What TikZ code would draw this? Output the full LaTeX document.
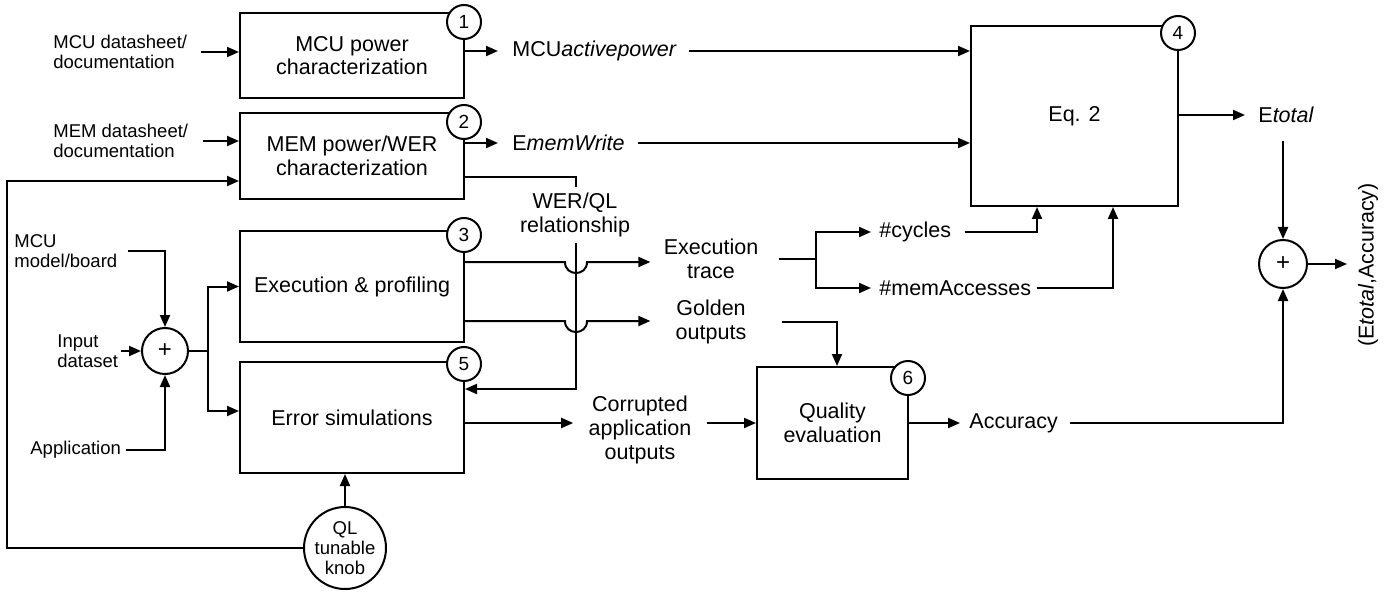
\documentclass[tikz,border=0pt]{standalone}
\usepackage{fontspec}
\setmainfont{Liberation Sans}
\usetikzlibrary{arrows.meta}
\newcommand{\mainsz}{\fontsize{10.75pt}{11.8pt}\selectfont}
\newcommand{\smallsz}{\fontsize{9.25pt}{10pt}\selectfont}
\tikzset{
  ln/.style={line width=1pt},
  arr/.style={line width=1pt,-{Triangle[length=6pt,width=5pt]}},
  box/.style={draw,line width=1pt,align=center,inner sep=0pt,font=\mainsz},
  badge/.style={draw,circle,fill=white,line width=1pt,minimum size=17pt,inner sep=0pt,font=\fontsize{9.5pt}{10pt}\selectfont},
  sumc/.style={draw,circle,line width=1pt,minimum size=23pt,inner sep=0pt,font=\fontsize{12pt}{13pt}\selectfont},
  lbl/.style={align=center,inner sep=0pt,font=\mainsz},
  slbl/.style={align=left,inner sep=0pt,font=\smallsz},
}
\begin{document}
\begin{tikzpicture}[x=0.5pt,y=-0.5pt]
\useasboundingbox (0,0) rectangle (1396,593);

% boxes
\node[box,minimum width=112pt,minimum height=42.5pt] (b1) at (352,55.5) {MCU power\\characterization};
\node[box,minimum width=112pt,minimum height=43pt] (b2) at (352,156) {MEM power/WER\\characterization};
\node[box,minimum width=112pt,minimum height=55.5pt] (b3) at (352,286.5) {Execution \& profiling};
\node[box,minimum width=112pt,minimum height=55.5pt] (b5) at (352,417.5) {Error simulations};
\node[box,minimum width=103.5pt,minimum height=90pt] (b4) at (1074.5,116) {Eq. 2};
\node[box,minimum width=75.5pt,minimum height=56pt] (b6) at (832.5,423) {Quality\\evaluation};

% sum circles and knob
\node[sumc] (s1) at (165,351) {+};
\node[sumc,minimum size=24pt] (s2) at (1283,264) {+};
\node[draw,circle,line width=1pt,minimum size=41pt,inner sep=0pt,align=center,font=\smallsz] (knob) at (345,548) {QL\\tunable\\knob};

% left labels
\node[slbl,anchor=west] (mcuds) at (53,52) {MCU datasheet/\\documentation};
\node[slbl,anchor=west] (memds) at (53,141) {MEM datasheet/\\documentation};
\node[slbl,anchor=west] (mcum) at (14,251) {MCU\\model/board};
\node[slbl,anchor=west] (inp) at (57,351) {Input\\dataset};
\node[slbl,anchor=west] (app) at (30,450) {Application};

% inner labels
\node[lbl,anchor=west] (mcuap) at (512,51) {MCU\textit{activepower}};
\node[lbl,anchor=west] (memw) at (512,143) {E\textit{memWrite}};
\node[lbl] (exec) at (711,259) {Execution\\trace};
\node[lbl] (gold) at (711,322) {Golden\\outputs};
\node[lbl] (cor) at (640,430) {Corrupted\\application\\outputs};
\node[lbl,anchor=west] (cyc) at (879,232) {\#cycles};
\node[lbl,anchor=west] (mema) at (879,288) {\#memAccesses};
\node[lbl,anchor=west] (etot) at (1258,115) {E\textit{total}};
\node[lbl,anchor=west] (acc) at (969,423) {Accuracy};
\node[lbl,rotate=90] (res) at (1368,265) {(E\textit{total},Accuracy)};

% coordinates
\coordinate (fb) at (7,181);
\coordinate (sp) at (208,351);
\coordinate (wq1) at (576,177);
\coordinate (wq2) at (576,389);
\coordinate (j1) at (576,262);
\coordinate (j2) at (576,321);
\coordinate (et) at ([xshift=-6.5pt]exec.west);
\coordinate (es) at (816,259);
\coordinate (c4) at ([xshift=-18.75pt]b4.south);
\coordinate (m4) at ([xshift=19.25pt]b4.south);
\coordinate (etd) at (1283,141);
\coordinate (rt) at (1347,264);
\coordinate (cw) at ([xshift=-7.5pt]cor.west);
\coordinate (ce) at ([xshift=7.5pt]cor.east);
\coordinate (ar) at (0,423);

% left inputs
\draw[arr] ([xshift=7pt]mcuds.east) -- (mcuds.east -| b1.west);
\draw[arr] ([xshift=7pt]memds.east) -- (memds.east -| b2.west);
\draw[arr] ([xshift=5pt]mcum.east) -| (s1.north);
\draw[arr] ([xshift=1.5pt]inp.east) -- (s1.west);
\draw[arr] ([xshift=2.5pt]app.east) -| (s1.south);
\draw[ln] (s1.east) -- (sp);
\draw[arr] (sp) |- (b3.west);
\draw[arr] (sp) |- ([yshift=3.25pt]b5.west);

% knob
\draw[arr] (knob.west) -| (fb) -- (fb -| b2.west);
\draw[arr] (knob.north) -- (knob.north |- b5.south);

% top outputs
\draw[arr] (b1.east |- mcuap) -- ([xshift=-7pt]mcuap.west);
\draw[arr] ([xshift=6pt]mcuap.east) -- (mcuap.east -| b4.west);
\draw[arr] (b2.east |- memw) -- ([xshift=-7pt]memw.west);
\draw[arr] ([xshift=6.5pt]memw.east) -- (memw.east -| b4.west);

% WER/QL relationship
\draw[arr] (b2.east |- wq1) -- (wq1) -- (wq2) -- (wq2 -| b5.east);
\node[lbl,fill=white,inner xsep=2pt,inner ysep=3pt] (wql) at (575,215) {WER/QL\\relationship};

% box3 outputs with jumps
\draw[arr] (b3.east |- j1) -- ([xshift=-5.5pt]j1)
  .. controls ([shift={(-5.5pt,-7.35pt)}]j1) and ([shift={(5.5pt,-7.35pt)}]j1) .. ([xshift=5.5pt]j1)
  -- (et |- j1);
\draw[arr] (b3.east |- j2) -- ([xshift=-5.5pt]j2)
  .. controls ([shift={(-5.5pt,-7.35pt)}]j2) and ([shift={(5.5pt,-7.35pt)}]j2) .. ([xshift=5.5pt]j2)
  -- (et |- j2);

% execution trace split
\draw[ln] ([xshift=10pt]exec.east) -- (es);
\draw[arr] (es) |- ([xshift=-4pt]cyc.west);
\draw[arr] (es) |- ([xshift=-4pt]mema.west);
\draw[arr] ([xshift=6.5pt]cyc.east) -| (c4);
\draw[arr] ([xshift=2.5pt]mema.east) -| (m4);

% golden and corrupted
\draw[arr] ([xshift=17.5pt]gold.east) -| ([xshift=2.25pt]b6.north);
\draw[arr] (b5.east |- ar) -- (cw |- ar);
\draw[arr] (ce |- ar) -- (b6.west |- ar);

% right side
\draw[arr] (b4.east |- etot) -- ([xshift=-6.5pt]etot.west);
\draw[arr] (etd) -- (s2.north);
\draw[arr] (b6.east |- acc) -- ([xshift=-4.5pt]acc.west);
\draw[arr] ([xshift=6pt]acc.east) -| (s2.south);
\draw[arr] (s2.east) -- (rt);

% badges
\node[badge] (n1) at (464,22) {1};
\node[badge] (n2) at (464,122) {2};
\node[badge] (n3) at (464,235) {3};
\node[badge] (n5) at (464,364) {5};
\node[badge] (n4) at (1178,33) {4};
\node[badge] (n6) at (908,378) {6};
\end{tikzpicture}
\end{document}
